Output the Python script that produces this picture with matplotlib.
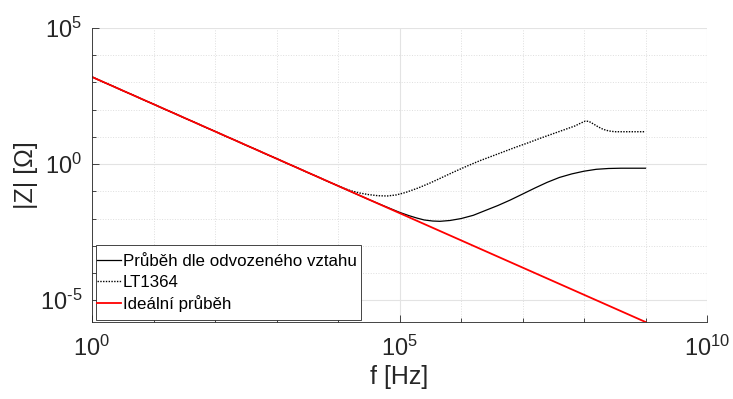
import matplotlib
matplotlib.use("Agg")
import matplotlib.pyplot as plt
from matplotlib.patches import Rectangle
from matplotlib.ticker import LogLocator, FixedFormatter, NullFormatter

plt.rcParams['font.family'] = ['Liberation Sans', 'DejaVu Sans']
plt.rcParams['mathtext.fontset'] = 'custom'
plt.rcParams['mathtext.rm'] = 'Liberation Sans'
plt.rcParams['mathtext.it'] = 'Liberation Sans:italic'
plt.rcParams['mathtext.bf'] = 'Liberation Sans:bold'

# ---- data ----
f_derived = [1, 1e3, 1e4, 3.162e4, 5.012e4, 7.079e4, 1e5, 1.413e5, 1.905e5, 2.512e5,
             3.467e5, 4.571e5, 6.607e5, 1e6, 1.585e6, 2.512e6, 3.981e6, 6.310e6,
             1e7, 1.585e7, 2.512e7, 3.981e7, 6.310e7, 1e8, 1.585e8, 2.512e8,
             3.981e8, 1e9]
z_derived = [1591, 1.591, 0.159, 0.0503, 0.0324, 0.0234, 0.0170, 0.0129, 0.0105, 0.00891,
             0.00813, 0.00794, 0.00851, 0.0100, 0.0132, 0.0200, 0.0302, 0.0479,
             0.0794, 0.132, 0.214, 0.324, 0.437, 0.550, 0.646, 0.692,
             0.708, 0.708]

f_lt1364 = [1, 1e3, 1e4, 1.259e4, 1.585e4, 2.239e4, 3.162e4, 4.467e4, 6.310e4, 8.913e4,
            1.259e5, 1.995e5, 3.162e5, 5.012e5, 7.943e5, 1.259e6, 1.995e6, 3.162e6,
            5.012e6, 7.943e6, 1.259e7, 1.995e7, 3.162e7, 5.012e7, 7.079e7, 8.913e7,
            1.047e8, 1.202e8, 1.413e8, 1.698e8, 2.042e8, 2.512e8, 3.162e8, 1e9]
z_lt1364 = [1591, 1.591, 0.159, 0.129, 0.107, 0.0871, 0.0759, 0.0692, 0.0676, 0.0741,
            0.0912, 0.132, 0.204, 0.331, 0.537, 0.851, 1.318, 1.950,
            2.884, 4.266, 6.166, 9.120, 13.18, 19.05, 25.12, 32.36,
            38.02, 37.15, 30.20, 23.44, 19.05, 16.60, 15.49, 15.49]

f_ideal = [1, 1e9]
z_ideal = [1591, 1.591e-6]

labels = ["Průběh dle odvozeného vztahu", "LT1364", "Ideální průběh"]

x_ticks = [1, 1e5, 1e10]
x_ticklabels = [r'$\mathdefault{10^{0}}$', r'$\mathdefault{10^{5}}$', r'$\mathdefault{10^{10}}$']
y_ticks = [1e-5, 1, 1e5]
y_ticklabels = [r'$\mathdefault{10^{\text{-}5}}$', r'$\mathdefault{10^{0}}$', r'$\mathdefault{10^{5}}$']

# ---- figure ----
fig = plt.figure(figsize=(7.33, 3.99), dpi=100)
ax = fig.add_axes([92/733, 1-322/399, (707-92)/733, (322-28)/399])

ax.loglog(f_derived, z_derived, color='black', lw=0.9, ls='-', label=labels[0])
ax.loglog(f_lt1364, z_lt1364, color='black', lw=1.0, ls=(0, (1, 1)), label=labels[1])
ax.loglog(f_ideal, z_ideal, color='#ff0000', lw=1.3, ls='-', label=labels[2])

ax.set_xticks(x_ticks)
ax.set_yticks(y_ticks)
ax.xaxis.set_major_formatter(FixedFormatter(x_ticklabels))
ax.yaxis.set_major_formatter(FixedFormatter(y_ticklabels))
ax.xaxis.set_minor_locator(LogLocator(base=10, subs=(1.0,), numticks=30))
ax.yaxis.set_minor_locator(LogLocator(base=10, subs=(1.0,), numticks=30))
ax.xaxis.set_minor_formatter(NullFormatter())
ax.yaxis.set_minor_formatter(NullFormatter())
ax.set_xlim(1, 1e10)
ax.set_ylim(1.591e-6, 1e5)

ax.tick_params(which='both', direction='in', colors='#262626', labelcolor='#262626')
ax.tick_params(which='major', length=5, width=0.6, labelsize=17)
ax.tick_params(axis='x', which='major', pad=10)
ax.tick_params(axis='y', which='major', pad=7)
ax.tick_params(which='minor', length=3, width=0.6)

ax.grid(True, which='major', color='#e3e3e3', lw=0.8, ls='-')
ax.grid(True, which='minor', color='#dedede', lw=0.7, ls=':')
ax.set_axisbelow(True)

for s in ['top', 'right']:
    ax.spines[s].set_visible(False)
for s in ['left', 'bottom']:
    ax.spines[s].set_color('#262626')
    ax.spines[s].set_linewidth(0.6)

ax.set_xlabel('f [Hz]', fontsize=18, color='#262626', labelpad=3)
ax.set_ylabel('|Z| [Ω]', fontsize=18, color='#262626')
ax.yaxis.set_label_coords(-0.088, 0.5)

# legend frame drawn as a rectangle (MATLAB-style padding)
frame = Rectangle((96/733, (399-320)/399), (361-96)/733, (320-245)/399,
                  transform=fig.transFigure, facecolor='white', edgecolor='#262626',
                  lw=0.6, zorder=4.5, clip_on=False)
ax.add_patch(frame)

leg = ax.legend(loc='lower left', bbox_to_anchor=(97/733, (399-312)/399),
                bbox_transform=fig.transFigure, borderaxespad=0, borderpad=0,
                fontsize=12.2, frameon=False,
                handlelength=1.42, handletextpad=0.1, labelspacing=0.32)
leg.set_zorder(5)

fig.savefig('out.png', dpi=100)
